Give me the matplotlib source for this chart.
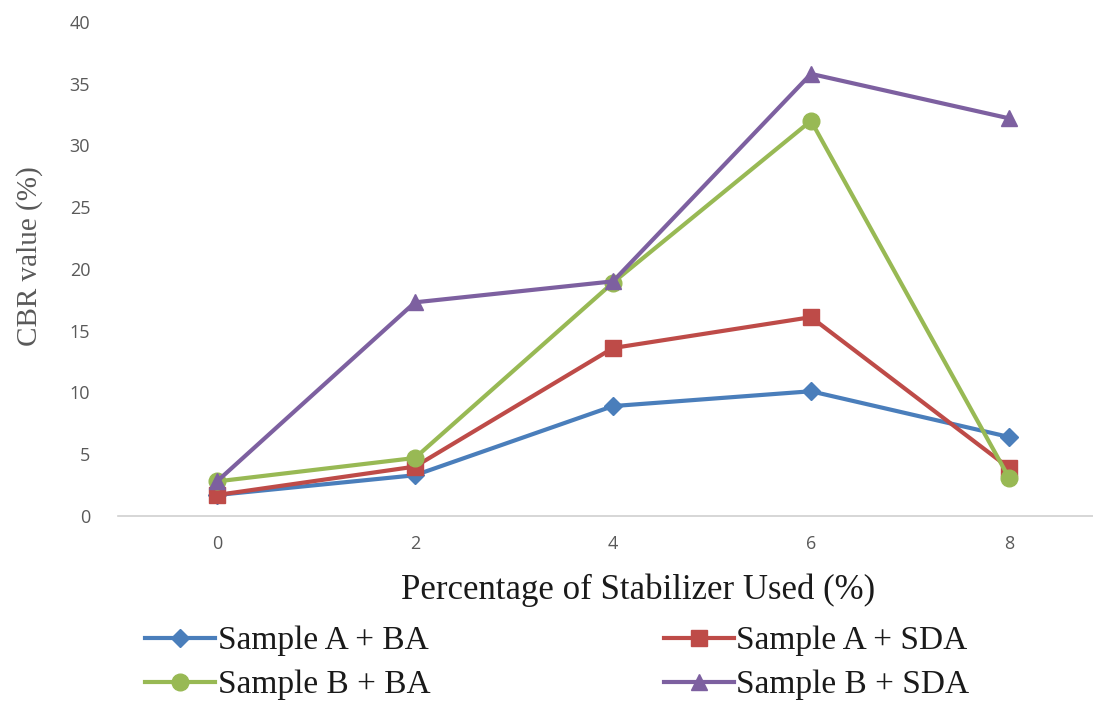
import matplotlib
matplotlib.use("Agg")
import matplotlib.pyplot as plt

x_values = [0, 2, 4, 6, 8]
x_labels = ["0", "2", "4", "6", "8"]
a_ba = [1.7, 3.3, 8.9, 10.1, 6.4]
a_sda = [1.7, 4.0, 13.6, 16.1, 3.9]
b_ba = [2.8, 4.7, 18.9, 32.0, 3.1]
b_sda = [2.8, 17.3, 19.0, 35.8, 32.2]
series_names = ["Sample A + BA", "Sample A + SDA", "Sample B + BA", "Sample B + SDA"]

fig = plt.figure(figsize=(10.93, 7.04), dpi=100)
ax = fig.add_axes([118/1093, 1-516/704, 990/1093, (516-22)/704])

styles = [
    (a_ba, "#4A7EBB", "D", 9),
    (a_sda, "#BE4B48", "s", 11),
    (b_ba, "#98B954", "o", 12),
    (b_sda, "#7D60A0", "^", 12),
]
handles = []
for (vals, col, mk, ms), name in zip(styles, series_names):
    h, = ax.plot(x_values, vals, color=col, lw=3.0, marker=mk, markersize=ms,
                 markerfacecolor=col, markeredgecolor=col, label=name)
    handles.append(h)

ax.set_xlim(-1, 9)
ax.set_ylim(0, 40)
ax.set_yticks(range(0, 41, 5))
ax.set_xticks(x_values)
ax.set_xticklabels(x_labels)
for s in ["top", "right", "left"]:
    ax.spines[s].set_visible(False)
ax.spines["bottom"].set_color("#D0D0D0")
ax.spines["bottom"].set_linewidth(1.2)
ax.tick_params(axis="both", length=0, labelsize=13, colors="#595959", labelfontfamily="Open Sans")
ax.tick_params(axis="y", pad=20)
ax.tick_params(axis="x", pad=14)

fig.text(30/1093, 1-256/704, "CBR value (%)", rotation=90, va="center", ha="center",
         family="Liberation Serif", fontsize=21, color="#595959")
fig.text(638/1093, 1-590/704, "Percentage of Stabilizer Used (%)", va="center", ha="center",
         family="Liberation Serif", fontsize=25, color="#1a1a1a")

order = [0, 2, 1, 3]
leg = fig.legend([handles[i] for i in order], [series_names[i] for i in order],
                 ncol=2, loc="center left", bbox_to_anchor=(145/1093, 1-663/704),
                 frameon=False, prop={"family": "Liberation Serif", "size": 24},
                 handlelength=2.1, handletextpad=0.08, columnspacing=7.0,
                 labelspacing=0.4, borderaxespad=0, borderpad=0)
for t in leg.get_texts():
    t.set_color("#1a1a1a")

fig.savefig("out.png", dpi=100)
